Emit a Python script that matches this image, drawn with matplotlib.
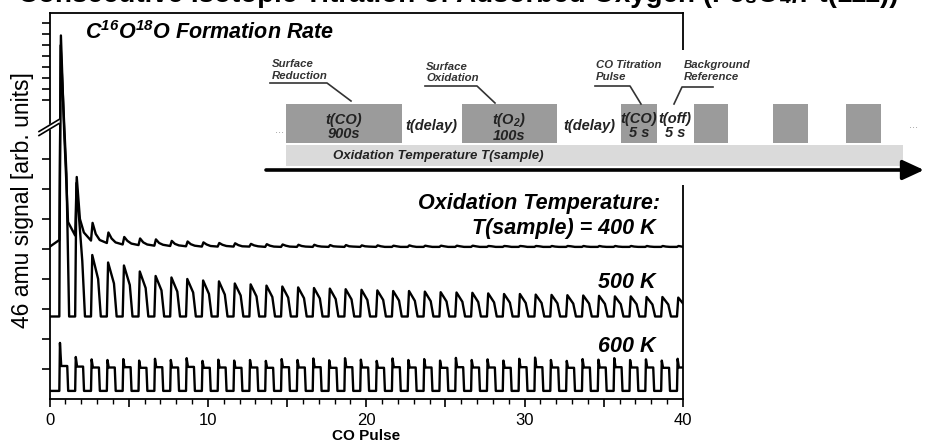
import numpy as np
import matplotlib
matplotlib.use("Agg")
import matplotlib.pyplot as plt
from matplotlib.patches import Rectangle
from matplotlib.ticker import MultipleLocator, FuncFormatter

plt.rcParams['font.family'] = ['Liberation Sans', 'DejaVu Sans']
plt.rcParams['mathtext.fontset'] = 'custom'
plt.rcParams['mathtext.rm'] = 'Liberation Sans:bold:italic'
plt.rcParams['mathtext.it'] = 'Liberation Sans:bold:italic'
plt.rcParams['mathtext.bf'] = 'Liberation Sans:bold:italic'

# ---------------- data (arbitrary units) ----------------
pulse_number = np.arange(1, 41)
pulse_onset = pulse_number - 0.38

# 400 K trace (top)
base400 = 5.07
pre400 = 5.30
peak400 = [94.0, 7.40, 5.87, 5.55, 5.40, 5.35, 5.32, 5.27, 5.25, 5.22,
           5.20, 5.19, 5.17, 5.16, 5.15, 5.14, 5.14, 5.13, 5.13, 5.12,
           5.12, 5.11, 5.12, 5.11, 5.11, 5.11, 5.11, 5.10, 5.10, 5.10,
           5.10, 5.10, 5.10, 5.10, 5.10, 5.10, 5.10, 5.10, 5.10, 5.10]
knee400 = [9.00, 6.00, 5.50, 5.35, 5.27, 5.22, 5.20, 5.17, 5.16, 5.15,
           5.14, 5.13, 5.12, 5.11, 5.11, 5.10, 5.10, 5.09, 5.09, 5.09,
           5.09, 5.09, 5.09, 5.09, 5.09, 5.09, 5.09, 5.09, 5.09, 5.09,
           5.09, 5.08, 5.09, 5.08, 5.08, 5.08, 5.08, 5.08, 5.08, 5.08]
tail400 = [5.90, 5.55, 5.30, 5.22, 5.18, 5.15, 5.14, 5.12, 5.11, 5.10,
           5.10, 5.09, 5.09, 5.08, 5.08, 5.08, 5.08, 5.08, 5.08, 5.08,
           5.07, 5.07, 5.07, 5.07, 5.07, 5.07, 5.07, 5.07, 5.07, 5.07,
           5.07, 5.07, 5.07, 5.07, 5.07, 5.07, 5.07, 5.07, 5.07, 5.07]
trough400 = [5.45, 5.28, 5.20, 5.15, 5.13, 5.11, 5.10, 5.09, 5.08, 5.08,
             5.08, 5.08, 5.07, 5.07, 5.07, 5.07, 5.07, 5.07, 5.07, 5.07,
             5.07, 5.07, 5.07, 5.07, 5.07, 5.07, 5.07, 5.07, 5.07, 5.07,
             5.07, 5.07, 5.07, 5.07, 5.07, 5.07, 5.07, 5.07, 5.07, 5.07]

# 500 K trace (middle)
base500 = 2.75
peak500 = [85.0, 7.20, 4.80, 4.55, 4.45, 4.25, 4.10, 4.05, 4.00, 3.95,
           3.92, 3.85, 3.82, 3.78, 3.75, 3.72, 3.70, 3.68, 3.66, 3.64,
           3.62, 3.60, 3.60, 3.58, 3.56, 3.55, 3.54, 3.52, 3.50, 3.50,
           3.48, 3.47, 3.46, 3.45, 3.44, 3.42, 3.42, 3.40, 3.40, 3.38]
end500 = [7.50, 4.60, 4.00, 3.85, 3.80, 3.70, 3.62, 3.58, 3.55, 3.50,
          3.48, 3.45, 3.42, 3.40, 3.38, 3.36, 3.35, 3.33, 3.32, 3.30,
          3.30, 3.28, 3.27, 3.26, 3.25, 3.24, 3.23, 3.22, 3.21, 3.20,
          3.20, 3.19, 3.18, 3.18, 3.17, 3.16, 3.16, 3.15, 3.15, 3.14]

# 600 K trace (bottom)
base600 = 0.27
peak600 = [1.87, 1.40, 1.32, 1.30, 1.33, 1.28, 1.34, 1.30, 1.36, 1.27,
           1.31, 1.28, 1.30, 1.27, 1.33, 1.30, 1.35, 1.29, 1.36, 1.31,
           1.27, 1.35, 1.30, 1.33, 1.28, 1.37, 1.30, 1.32, 1.28, 1.34,
           1.38, 1.30, 1.27, 1.33, 1.31, 1.36, 1.30, 1.32, 1.28, 1.34]
level600 = [1.10, 1.08, 1.05, 1.05, 1.06, 1.04, 1.06, 1.05, 1.07, 1.04,
            1.05, 1.04, 1.05, 1.04, 1.06, 1.05, 1.06, 1.04, 1.06, 1.05,
            1.04, 1.06, 1.05, 1.05, 1.04, 1.06, 1.05, 1.05, 1.04, 1.06,
            1.06, 1.05, 1.04, 1.05, 1.05, 1.06, 1.05, 1.05, 1.04, 1.05]

x_ticks_major = [0, 10, 20, 30, 40]

# ---------------- figure ----------------
W, H = 925, 443
fig = plt.figure(figsize=(W / 100, H / 100), dpi=100)
ax = fig.add_axes([49.5 / W, 1 - 399 / H, (683 - 49.5) / W, (399 - 12.7) / H])

B, C = 9.0, 1.1 / 30.0


def fwd(v):
    v = np.asarray(v, dtype=float)
    return np.where(v <= B, v, B + (v - B) * C)


def inv(u):
    u = np.asarray(u, dtype=float)
    return np.where(u <= B, u, B + (u - B) / C)


ax.set_yscale('function', functions=(fwd, inv))
ax.set_ylim(0, 114.7)
ax.set_xlim(0, 40)

# build traces from the per-pulse readings
x4, y4 = [0.0, pulse_onset[0]], [base400, pre400]
x5, y5 = [0.0, pulse_onset[0]], [base500, base500]
x6, y6 = [0.0, pulse_onset[0]], [base600, base600]
for k, t in enumerate(pulse_onset):
    x4 += [t + 0.10, t + 0.30, t + 0.55, t + 1.0]
    y4 += [peak400[k], knee400[k], tail400[k], trough400[k]]
    x5 += [t + 0.08, t + 0.45, t + 0.62, t + 1.0]
    y5 += [peak500[k], end500[k], base500, base500]
    x6 += [t + 0.04, t + 0.12, t + 0.50, t + 0.56, t + 1.0]
    y6 += [peak600[k], level600[k], level600[k], base600, base600]

for xs, ys in ((x6, y6), (x5, y5), (x4, y4)):
    ax.plot(xs, ys, color='black', lw=1.7, solid_joinstyle='round', clip_on=True)

# axes styling
for s in ax.spines.values():
    s.set_linewidth(1.3)
lower_ticks = [1, 2, 3, 4, 5, 6, 7, 8]
upper_ticks = [35, 45, 55, 65, 75, 85, 95, 105]
ax.set_yticks(lower_ticks + upper_ticks)
ax.tick_params(axis='y', direction='out', length=6, width=1.2, labelleft=False)
ax.xaxis.set_major_locator(MultipleLocator(5))
ax.xaxis.set_minor_locator(MultipleLocator(1))
ax.xaxis.set_major_formatter(FuncFormatter(lambda v, p: f"{int(round(v))}" if int(round(v)) in x_ticks_major else ""))
ax.tick_params(axis='x', which='major', direction='out', length=6, width=1.2, labelsize=12, pad=4)
ax.tick_params(axis='x', which='minor', direction='out', length=3.5, width=1.0)
ax.set_xlabel('CO Pulse', fontsize=11, fontweight='bold', labelpad=0.5)

fig.text(23 / W, 1 - 200 / H, '46 amu signal [arb. units]', rotation=90,
         ha='center', va='center', fontsize=16.5)

# ---------------- overlay in pixel coordinates ----------------
ov = fig.add_axes([0, 0, 1, 1], zorder=5)
ov.set_xlim(0, W)
ov.set_ylim(H, 0)
ov.axis('off')
ov.patch.set_alpha(0)

bi = dict(fontweight='bold', fontstyle='italic')

# title (cut at top of picture, as in the reference)
fig.text(18 / W, 1 - 2.5 / H,
         'Consecutive Isotopic Titration of Adsorbed Oxygen (Fe\u2083O\u2084/Pt(111))',
         ha='left', va='baseline', fontsize=20, fontweight='bold')

ov.text(85, 33, 'C$^{16}$O$^{18}$O Formation Rate', ha='left', va='center', fontsize=15.5, **bi)
ov.text(660, 203, 'Oxidation Temperature:', ha='right', va='center', fontsize=15.5, **bi)
ov.text(656, 228, 'T(sample) = 400 K', ha='right', va='center', fontsize=15.5, **bi)
ov.text(656, 283, '500 K', ha='right', va='center', fontsize=15.5, **bi)
ov.text(656, 347, '600 K', ha='right', va='center', fontsize=15.5, **bi)

# axis break marks
ov.fill([39, 59, 59, 39], [135.5, 123.5, 119.5, 131.5], color='white', zorder=3)
ov.plot([39, 59], [135.5, 123.5], color='black', lw=1.2, zorder=4)
ov.plot([39, 59], [131.5, 119.5], color='black', lw=1.2, zorder=4)

# ---------------- timing scheme ----------------
ink = '#222222'
ov.add_patch(Rectangle((262, 50), W - 262, 135, fc='white', ec='none', zorder=1))
for x0, x1 in [(286, 402), (462, 557), (621, 657), (694, 728), (773, 808), (846, 881)]:
    ov.add_patch(Rectangle((x0, 104), x1 - x0, 39, fc='#9b9b9b', ec='none', zorder=2))
ov.add_patch(Rectangle((286, 145), 903 - 286, 21, fc='#dadada', ec='none', zorder=2))
ov.annotate('', xy=(924, 170), xytext=(266, 170),
            arrowprops=dict(arrowstyle='-|>,head_length=0.65,head_width=0.3', lw=2.6,
                            color='black', mutation_scale=20, shrinkA=0, shrinkB=0), zorder=3)

for (x, y, s) in [(344, 127, 't(CO)\n900s'), (431, 126, 't(delay)'),
                  (509, 127, 't(O$_2$)\n100s'), (589, 126, 't(delay)'),
                  (639, 126, 't(CO)\n5 s'), (675, 126, 't(off)\n5 s')]:
    ov.text(x, y, s, ha='center', va='center', fontsize=10.5, color=ink,
            linespacing=1.05, zorder=4, **bi)
ov.text(438, 156, 'Oxidation Temperature T(sample)', ha='center', va='center',
        fontsize=9.5, color=ink, zorder=4, **bi)
ov.text(279, 130, '...', ha='center', va='center', fontsize=8, color='#999999', zorder=4)
ov.text(913, 125, '...', ha='center', va='center', fontsize=8, color='#999999', zorder=4)

for (x, y, s) in [(272, 70, 'Surface\nReduction'), (426, 72.5, 'Surface\nOxidation'),
                  (596, 71, 'CO Titration\nPulse'), (684, 71, 'Background\nReference')]:
    ov.text(x, y, s, ha='left', va='center', fontsize=8.2, color='#333333',
            linespacing=1.15, zorder=4, **bi)
for xs, ys in [([270, 327, 351], [83, 83, 101]), ([425, 477, 495], [86, 86, 103]),
               ([595, 630, 641], [86, 86, 104]), ([713, 682, 674], [87, 87, 104])]:
    ov.plot(xs, ys, color='#333333', lw=1.2, zorder=4)

fig.savefig('out.png', dpi=100)
